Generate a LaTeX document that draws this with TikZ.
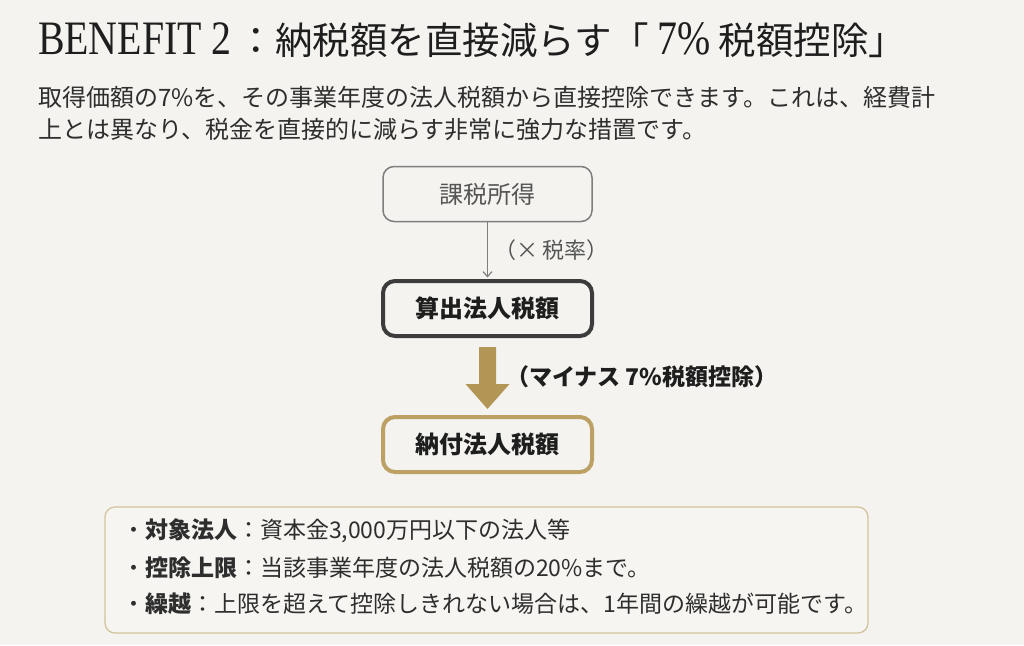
\documentclass[tikz,border=0pt]{standalone}
\usepackage{fontspec}
\setmainfont{Noto Sans CJK JP}
\newfontfamily\serifcond[FakeStretch=0.83]{Liberation Serif}
\usetikzlibrary{arrows.meta,calc}
\definecolor{bgcol}{HTML}{F4F3EF}
\definecolor{titlecol}{HTML}{1E1E1E}
\definecolor{bodycol}{HTML}{2E2E2E}
\definecolor{greyline}{HTML}{7E7E7E}
\definecolor{greytext}{HTML}{555555}
\definecolor{darkline}{HTML}{3C3C3C}
\definecolor{goldcol}{HTML}{B39656}
\definecolor{goldline}{HTML}{BCA064}
\definecolor{paleline}{HTML}{D3C39D}
\definecolor{panelfill}{HTML}{F6F5F1}
\tikzset{
  plain/.style={inner sep=0pt, outer sep=0pt},
  flowbox/.style={rectangle, rounded corners=12pt, minimum width=209pt, minimum height=55pt, inner sep=0pt, fill=bgcol},
  incomebox/.style={flowbox, draw=greyline, line width=1.5pt, rounded corners=11pt, text=greytext, font=\fontsize{24}{28}\selectfont},
  calcbox/.style={flowbox, draw=darkline, line width=4pt, text=titlecol, font=\bfseries\fontsize{24}{28}\selectfont},
  paybox/.style={flowbox, draw=goldline, line width=4pt, text=titlecol, font=\bfseries\fontsize{24}{28}\selectfont},
  panel/.style={draw=paleline, line width=1.3pt, rounded corners=10pt, fill=panelfill},
  bodytext/.style={plain, anchor=west, text=bodycol, font=\fontsize{24}{32}\selectfont},
  listtext/.style={plain, anchor=west, text=bodycol, font=\fontsize{23}{30}\selectfont},
}
\begin{document}
\begin{tikzpicture}[x=1pt,y=-1pt]
\fill[bgcol] (0,0) rectangle (1024,645);
\useasboundingbox (0,0) rectangle (1024,645);

% title
\node[plain, anchor=base west, text=titlecol] (title) at (38,54)
  {{\serifcond\fontsize{48}{48}\selectfont BENEFIT 2}\kern6pt{\fontsize{37.5}{40}\selectfont ：納税額を直接減らす「}\kern8pt{\serifcond\fontsize{48}{48}\selectfont 7\%}{\fontsize{37.5}{40}\selectfont\ 税額控除」}};

% paragraph
\node[bodytext] (p1) at (38,97) {取得価額の7\%を、その事業年度の法人税額から直接控除できます。これは、経費計};
\node[bodytext] (p2) at (38,129) {上とは異なり、税金を直接的に減らす非常に強力な措置です。};

% flow
\node[incomebox] (b1) at (487.5,194) {課税所得};
\node[calcbox] (b2) at (487.5,308.5) {算出法人税額};
\node[paybox] (b3) at (487.5,444.5) {納付法人税額};

\draw[greyline, line width=1.2pt, -{Straight Barb[length=5pt,width=9pt]}, shorten >=1.5pt] (b1) -- (b2);
\node[plain, anchor=west, text=greytext, font=\fontsize{22}{26}\selectfont] (l1) at (494,250) {（× 税率）};

\fill[goldcol] ($(b2.south)+(-8.5,9)$) -- ($(b2.south)+(8.5,9)$) -- ($(b2.south)+(8.5,46)$)
  -- ($(b2.south)+(22,46)$) -- ($(b2.south)+(0,71)$) -- ($(b2.south)+(-22,46)$)
  -- ($(b2.south)+(-8.5,46)$) -- cycle;
\node[plain, anchor=west, text=titlecol, font=\bfseries\fontsize{23}{26}\selectfont] (l2) at (506,377) {（マイナス 7\%税額控除）};

% bottom panel
\draw[panel] (105,507) rectangle (868,633);
\node[listtext] (t1) at (122,531) {・\textbf{対象法人}：資本金3,000万円以下の法人等};
\node[listtext] (t2) at (122,568) {・\textbf{控除上限}：当該事業年度の法人税額の20\%まで。};
\node[listtext] (t3) at (122,604) {・\textbf{繰越}：上限を超えて控除しきれない場合は、1年間の繰越が可能です。};
\end{tikzpicture}
\end{document}
